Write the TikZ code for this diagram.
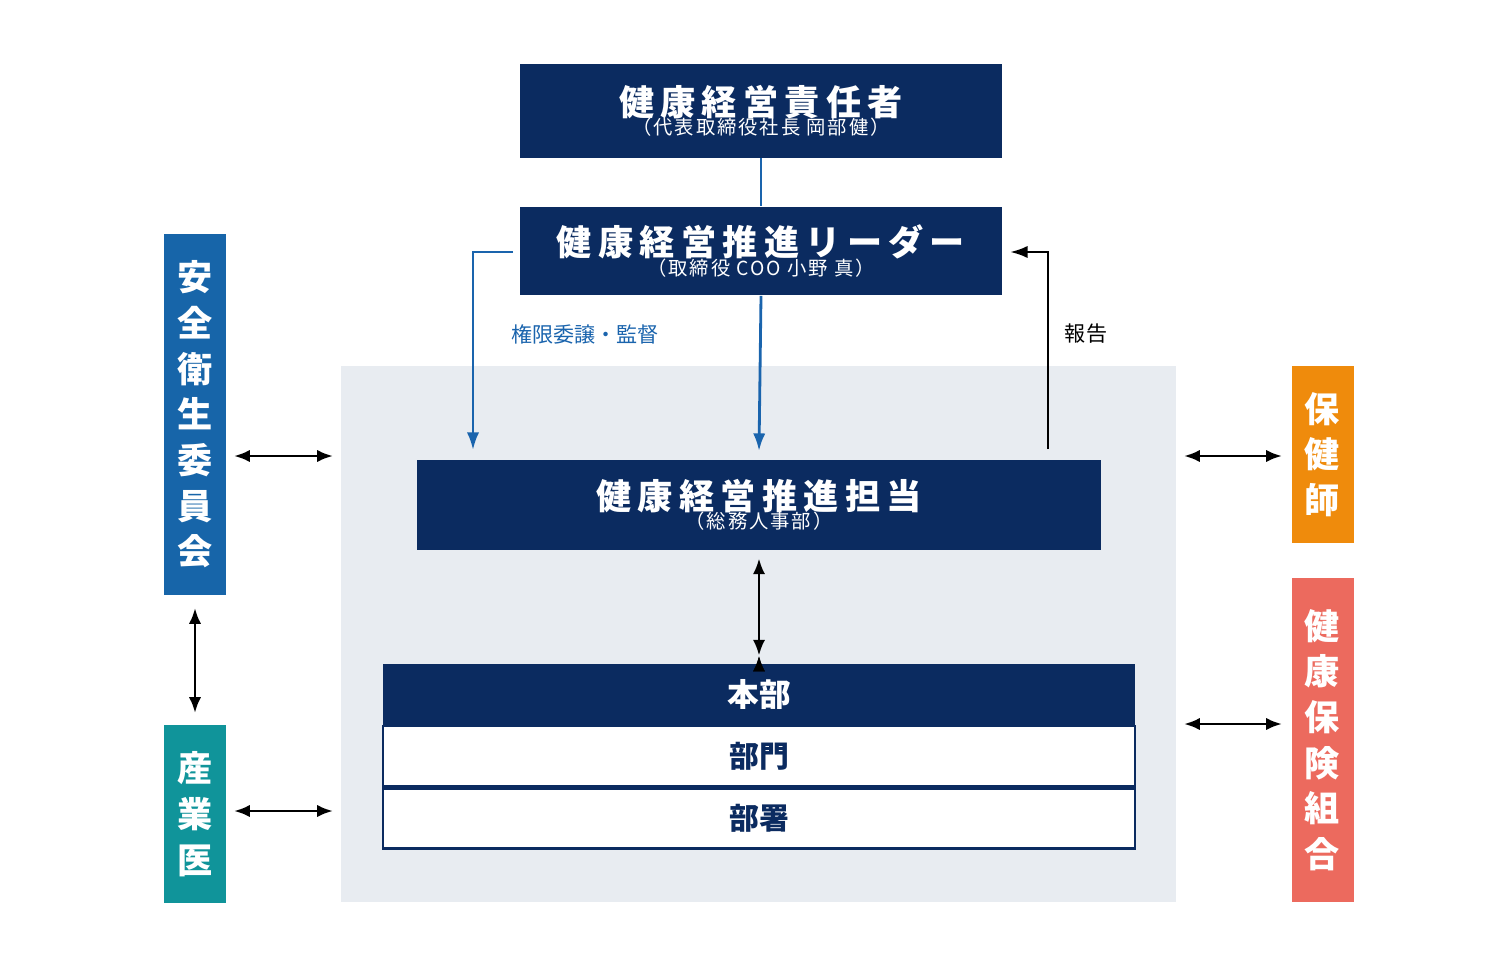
\documentclass[tikz,border=0pt]{standalone}
\usepackage{fontspec}
\setmainfont{Noto Sans CJK JP}
\newfontfamily\cjkwide[LetterSpace=18]{Noto Sans CJK JP}
\newfontfamily\cjksub[LetterSpace=10]{Noto Sans CJK JP}
\usetikzlibrary{arrows.meta}
\definecolor{navy}{HTML}{0B2B60}
\definecolor{linkblue}{HTML}{1A64AD}
\definecolor{pane}{HTML}{E8ECF1}
\definecolor{safety}{HTML}{1765A9}
\definecolor{doctor}{HTML}{10949A}
\definecolor{nurse}{HTML}{EF8B0C}
\definecolor{union}{HTML}{EC6A5E}
\begin{document}
\begin{tikzpicture}[x=0.02cm,y=-0.02cm,
    head/.style={fill=navy,text=white,inner sep=0pt,align=center},
    side/.style={text=white,inner sep=0pt,align=center,minimum width=1.24cm,
      font=\fontsize{20}{26}\selectfont\bfseries},
    dbl/.style={{Latex[length=9pt,width=7pt]}-{Latex[length=9pt,width=7pt]},line width=1.6pt},
    row/.style={draw=navy,line width=1.2pt,fill=white,text=navy,inner sep=0pt,
      minimum width=15.04cm,minimum height=1.2cm,font=\fontsize{17}{20}\selectfont\bfseries}]
    \useasboundingbox (0,0) rectangle (1500,973);
    \fill[pane] (341,366) rectangle (1176,902);
    % main chain
    \node[head,minimum width=9.64cm,minimum height=1.88cm] (chief) at (761,111)
      {{\cjkwide\fontsize{20}{24}\selectfont\bfseries 健康経営責任者}\\[-1pt]
       {\cjksub\fontsize{11}{14}\selectfont （代表取締役社長 岡部健）}};
    \node[head,minimum width=9.64cm,minimum height=1.78cm] (leader) at (761,251)
      {{\cjkwide\fontsize{20}{24}\selectfont\bfseries 健康経営推進リーダー}\\[-1pt]
       {\cjksub\fontsize{11}{14}\selectfont （取締役 COO 小野 真）}};
    \node[head,minimum width=13.68cm,minimum height=1.8cm] (staff) at (759,505)
      {{\cjkwide\fontsize{20}{24}\selectfont\bfseries 健康経営推進担当}\\[-1pt]
       {\cjksub\fontsize{11}{14}\selectfont （総務人事部）}};
    \draw[linkblue,line width=1.6pt] (chief.south) -- (leader.north);
    % headquarters
    \node[head,minimum width=15.04cm,minimum height=1.22cm,font=\fontsize{18}{20}\selectfont\bfseries] (hq) at (759,694.5) {本部};
    \node[row,anchor=north] (dept) at (hq.south) {部門};
    \node[row,anchor=north] (sect) at (dept.south) {部署};
    \draw[dbl] (staff.south) ++(0,8) coordinate (s1) (hq.north) ++(0,-8) coordinate (h1);
    \draw[dbl] (s1) -- (h1);
    % delegation and report
    \coordinate (bl1) at (513,252);
    \coordinate (bl2) at (473,252);
    \coordinate (bl3) at (473,450);
    \draw[linkblue,line width=1.6pt,-{Latex[length=10pt,width=7pt]}] (bl1) -- (bl2) -- (bl3);
    \draw[linkblue,line width=1.6pt,-{Latex[length=10pt,width=7pt]}] (leader.south) -- (759,451);
    \node[text=linkblue,font=\fontsize{12}{14}\selectfont] (deleg) at (585,334) {権限委譲・監督};
    \coordinate (rp1) at (1048,449);
    \coordinate (rp2) at (1048,252);
    \draw[line width=1.6pt,-{Latex[length=10pt,width=7pt]}] (rp1) -- (rp2) -- (1010,252);
    \node[font=\fontsize{12}{14}\selectfont] (report) at (1086,334) {報告};
    % side partners
    \node[side,fill=safety,minimum height=7.22cm] (safe) at (195,414.5) {安\\全\\衛\\生\\委\\員\\会};
    \node[side,fill=doctor,minimum height=3.56cm] (doc) at (195,814) {産\\業\\医};
    \node[side,fill=nurse,minimum height=3.54cm] (nurse) at (1322.5,454.5) {保\\健\\師};
    \node[side,fill=union,minimum height=6.48cm] (union) at (1322.5,740) {健\\康\\保\\険\\組\\合};
    \coordinate (pl1) at (333,456); \coordinate (pl2) at (333,811);
    \coordinate (pr1) at (1184,456); \coordinate (pr2) at (1184,724);
    \draw[dbl] (234,456) -- (pl1);
    \draw[dbl] (234,811) -- (pl2);
    \draw[dbl] (195,608) -- (195,713);
    \draw[dbl] (pr1) -- (1282,456);
    \draw[dbl] (pr2) -- (1282,724);
\end{tikzpicture}
\end{document}
